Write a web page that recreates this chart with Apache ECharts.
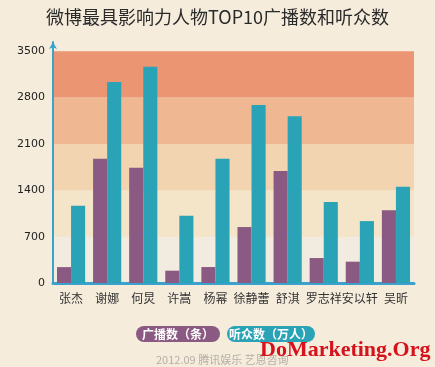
<!DOCTYPE html>
<html>
<head>
<meta charset="utf-8">
<script src="https://cdn.jsdelivr.net/npm/echarts@6/dist/echarts.min.js"></script>
<style>
html,body{margin:0;padding:0;background:#f5ecdc;}
#c{width:435px;height:367px;}
</style>
</head>
<body>
<div id="c"></div>
<script>
var categories = ['张杰','谢娜','何炅','许嵩','杨幂','徐静蕾','舒淇','罗志祥','安以轩','吴昕'];
var broadcasts = [240, 1875, 1740, 186, 241, 845, 1690, 377, 322, 1100];
var listeners = [1165, 3035, 3265, 1015, 1875, 2690, 2520, 1222, 935, 1453];
var seriesNames = ['广播数（条）', '听众数（万人）'];
var yTicks = [0, 700, 1400, 2100, 2800, 3500];
var titleText = '微博最具影响力人物TOP10广播数和听众数';
var sourceText = '2012.09 腾讯娱乐 艺恩咨询';
var watermark = 'DoMarketing.Org';

var purple = '#8a5a82';
var teal = '#2aa3b6';
var axisBlue = '#3aa2cc';
var bandColors = ['#f2ebdf', '#f4e4c8', '#f2d4b0', '#efb893', '#ec9573', 'rgba(0,0,0,0)'];

var chart = echarts.init(document.getElementById('c'));
chart.setOption({
  backgroundColor: '#f5ecdc',
  animation: false,
  title: [{
    text: titleText,
    left: 'center',
    top: 3,
    textStyle: {fontFamily: 'Noto Sans CJK SC', fontSize: 18, fontWeight: 'normal', color: '#2a2a2a'}
  }, {
    text: sourceText,
    left: 151,
    top: 349,
    textStyle: {fontFamily: 'Noto Sans CJK SC', fontSize: 11, fontWeight: 'normal', color: '#b5afa6'}
  }],
  legend: {
    left: 126,
    top: 321,
    icon: 'none',
    itemWidth: 0,
    itemHeight: 0,
    itemGap: 2,
    selectedMode: false,
    data: [{
      name: seriesNames[0],
      textStyle: {color: '#fff', fontWeight: 'bold', fontSize: 12, fontFamily: 'Noto Sans CJK SC',
        backgroundColor: purple, borderRadius: 8, padding: [2, 6, 2, 6]}
    }, {
      name: seriesNames[1],
      textStyle: {color: '#fff', fontWeight: 'bold', fontSize: 12, fontFamily: 'Noto Sans CJK SC',
        backgroundColor: teal, borderRadius: 8, padding: [2, 2, 2, 2]}
    }]
  },
  grid: {left: 53, right: 21, top: 42, bottom: 84, containLabel: false},
  xAxis: {
    type: 'category',
    data: categories,
    offset: 1,
    axisLine: {lineStyle: {color: axisBlue, width: 3}},
    axisTick: {show: false},
    axisLabel: {color: '#333', fontSize: 12, fontFamily: 'Noto Sans CJK SC', margin: 8, interval: 0}
  },
  yAxis: {
    type: 'value',
    min: yTicks[0],
    max: 3640,
    interval: yTicks[1] - yTicks[0],
    axisLine: {show: true, lineStyle: {color: axisBlue, width: 2}, symbol: ['none', 'arrow'], symbolSize: [6, 7]},
    axisTick: {show: false},
    splitLine: {show: false},
    splitArea: {show: true, areaStyle: {color: bandColors}},
    axisLabel: {
      color: '#222', fontSize: 11, fontFamily: 'DejaVu Sans', margin: 8, showMaxLabel: false,
      formatter: function (v) { return yTicks.indexOf(v) >= 0 ? String(v) : ''; }
    }
  },
  series: [{
    name: seriesNames[0],
    type: 'bar',
    data: broadcasts,
    barGap: '0%',
    barCategoryGap: '22%',
    itemStyle: {color: purple}
  }, {
    name: seriesNames[1],
    type: 'bar',
    data: listeners,
    barGap: '0%',
    barCategoryGap: '22%',
    itemStyle: {color: teal}
  }],
  graphic: [{
    type: 'text',
    left: 260,
    top: 339,
    z: 100,
    style: {text: watermark, fill: '#d6121c', font: 'bold 22px "Liberation Serif"'}
  }]
});
</script>
</body>
</html>
